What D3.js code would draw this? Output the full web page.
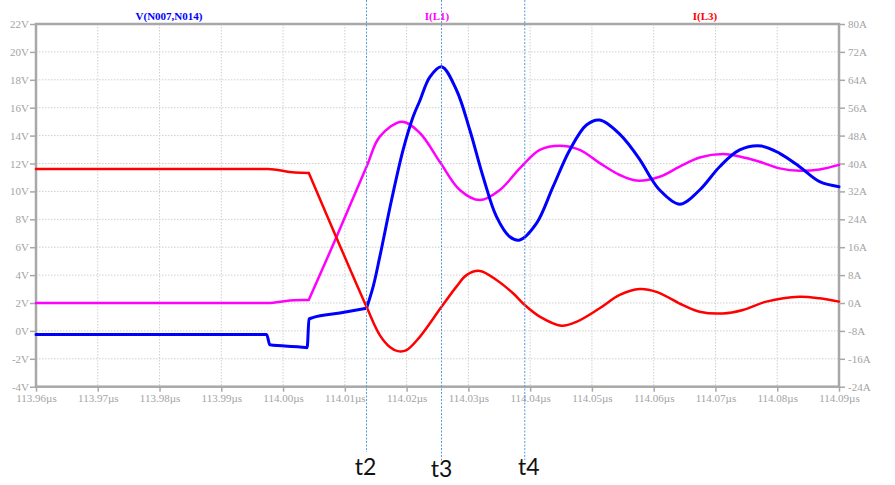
<!DOCTYPE html>
<html>
<head>
<meta charset="utf-8">
<script src="https://cdn.jsdelivr.net/npm/d3@7"></script>
<style>
  html, body { margin: 0; padding: 0; background: #fff; }
  svg { display: block; }
</style>
</head>
<body>
<svg id="chart" width="895" height="485"></svg>
<script>
// ---------------- DATA ----------------
const xTickValues = [113.96,113.97,113.98,113.99,114.00,114.01,114.02,114.03,114.04,114.05,114.06,114.07,114.08,114.09];
const xTickLabels = ["113.96µs","113.97µs","113.98µs","113.99µs","114.00µs","114.01µs","114.02µs","114.03µs","114.04µs","114.05µs","114.06µs","114.07µs","114.08µs","114.09µs"];
const leftTickValues = [22,20,18,16,14,12,10,8,6,4,2,0,-2,-4];
const leftTickLabels = ["22V","20V","18V","16V","14V","12V","10V","8V","6V","4V","2V","0V","-2V","-4V"];
const rightTickValues = [80,72,64,56,48,40,32,24,16,8,0,-8,-16,-24];
const rightTickLabels = ["80A","72A","64A","56A","48A","40A","32A","24A","16A","8A","0A","-8A","-16A","-24A"];

const seriesNames = ["V(N007,N014)","I(L1)","I(L3)"];

// V(N007,N014) in volts (left axis)
const vTime = [113.96,113.99733,113.99786,114.00272,114.0039,114.0042,114.0048,114.00919,114.01351,114.01458,114.01566,114.01756,114.01943,114.02105,114.02214,114.02375,114.02565,114.02807,114.03023,114.03238,114.03455,114.0367,114.03832,114.04102,114.04371,114.04641,114.04911,114.05126,114.0545,114.05773,114.05935,114.06097,114.06421,114.06744,114.07068,114.07392,114.07743,114.08039,114.08362,114.08686,114.09];
const vValues = [-0.25,-0.25,-1.0,-1.15,-1.2,0.85,0.95,1.28,1.62,3.17,5.32,9.38,12.97,15.35,16.5,18.2,18.94,17.27,14.40,11.05,8.19,6.75,6.52,7.71,10.34,12.97,14.76,15.12,14.11,12.3,11.1,10.1,9.08,10.10,11.77,12.97,13.25,12.73,11.77,10.70,10.34];

// I(L1) in amps (right axis)
const iL1Time = [113.96,113.99754,114.0011,114.00417,114.00866,114.01351,114.01566,114.01927,114.02214,114.02537,114.02861,114.03184,114.03508,114.03832,114.04155,114.04479,114.04803,114.05126,114.0545,114.0572,114.06097,114.06421,114.06744,114.0712,114.07392,114.07715,114.08039,114.08362,114.08686,114.09];
const iL1Values = [0,0,0.7,0.9,19.0,39.1,47.7,52.0,48.75,40.5,32.4,29.5,32.4,38.6,43.9,45.1,43.9,40.1,36.7,35.1,36.2,39.1,41.7,42.7,42.0,40.5,38.6,37.9,38.3,39.6];

// I(L3) in amps (right axis)
const iL3Time = [113.96,113.99754,114.00191,114.00417,114.01351,114.01566,114.01728,114.01858,114.01998,114.02214,114.02565,114.02807,114.02969,114.03184,114.03455,114.03723,114.03913,114.04155,114.04506,114.04749,114.05126,114.0545,114.05773,114.06044,114.06474,114.06744,114.07117,114.07445,114.07824,114.08362,114.08686,114.09];
const iL3Values = [38.4,38.4,37.4,37.3,-1.1,-9.2,-12.6,-13.8,-13.5,-9.7,-1.1,4.7,8.0,9.2,6.6,2.8,-0.6,-3.9,-6.5,-5.4,-1.5,2.3,4.0,3.2,-0.6,-2.5,-3.0,-2.0,0.4,1.8,1.35,0.4];

// cursors
const cursorNames = ["t2","t3","t4"];
const cursorTimes = [114.01351,114.02565,114.03913];

// ---------------- LAYOUT ----------------
const W = 895, H = 485;
const mLeft = 36, mRight = 839, mTop = 24, mBottom = 386.7;
const axisColor = "#a8a8a8";
const textColor = "#a3a3a3";
const svg = d3.select("#chart");
svg.append("rect").attr("width", W).attr("height", H).attr("fill", "#fff");

const x = d3.scaleLinear().domain([113.96, 114.09]).range([mLeft, mRight]);
const yL = d3.scaleLinear().domain([-4, 22]).range([mBottom, mTop]);
const yR = d3.scaleLinear().domain([-24, 80]).range([mBottom, mTop]);

// grid
const grid = svg.append("g");
grid.selectAll("line").data(xTickValues.slice(1, -1)).join("line")
  .attr("x1", d => x(d)).attr("x2", d => x(d)).attr("y1", mTop).attr("y2", mBottom)
  .attr("stroke", "#cfcfcf").attr("stroke-width", 1).attr("stroke-dasharray", "1.5,1.5");
const grid2 = svg.append("g");
grid2.selectAll("line").data(leftTickValues.slice(1, -1)).join("line")
  .attr("x1", mLeft).attr("x2", mRight).attr("y1", d => yL(d)).attr("y2", d => yL(d))
  .attr("stroke", "#cfcfcf").attr("stroke-width", 1).attr("stroke-dasharray", "1.5,1.5");

// axes
const fontSerif = "'Liberation Serif','DejaVu Serif',serif";
function styleAxis(g) {
  g.select(".domain").remove();
  g.selectAll(".tick line").attr("stroke", axisColor).attr("stroke-width", 1.5);
  g.selectAll(".tick text").attr("fill", textColor).attr("font-family", fontSerif).attr("font-size", "11px");
}
const xAxis = d3.axisBottom(x).tickValues(xTickValues).tickSize(5).tickPadding(3)
  .tickFormat((d, i) => xTickLabels[i]);
svg.append("g").attr("transform", `translate(0,${mBottom})`).call(xAxis).call(styleAxis);

const lAxis = d3.axisLeft(yL).tickValues(leftTickValues).tickSize(6).tickPadding(1)
  .tickFormat((d, i) => leftTickLabels[i]);
svg.append("g").attr("transform", `translate(${mLeft},0)`).call(lAxis).call(styleAxis);

const rAxis = d3.axisRight(yR).tickValues(rightTickValues).tickSize(6).tickPadding(3)
  .tickFormat((d, i) => rightTickLabels[i]);
svg.append("g").attr("transform", `translate(${mRight},0)`).call(rAxis).call(styleAxis);

// frame
svg.append("rect").attr("x", mLeft).attr("y", mTop).attr("width", mRight - mLeft).attr("height", mBottom - mTop)
  .attr("fill", "none").attr("stroke", axisColor).attr("stroke-width", 2.5);

// curves: monotone (sharp corners) for the switching part, Catmull-Rom for the ringing part
const lineSharp = d3.line().curve(d3.curveMonotoneX);
const lineSmooth = d3.line().curve(d3.curveCatmullRom.alpha(0.5));
function drawSeries(times, values, yScale, color, width, splitTime) {
  const pts = times.map((t, i) => [x(t), yScale(values[i])]);
  const k = times.indexOf(splitTime);
  const d = lineSharp(pts.slice(0, k + 1)) + lineSmooth(pts.slice(k));
  svg.append("path").attr("d", d).attr("fill", "none")
    .attr("stroke", color).attr("stroke-width", width)
    .attr("stroke-linejoin", "round").attr("stroke-linecap", "round");
}
drawSeries(iL1Time, iL1Values, yR, "#ff00ff", 2.5, 114.00417);
drawSeries(vTime, vValues, yL, "#0000ff", 3, 114.01351);
drawSeries(iL3Time, iL3Values, yR, "#ff0000", 2.5, 114.00417);

// cursor lines
const cursorEnds = [452, 462, 460];
svg.append("g").selectAll("line").data(cursorTimes).join("line")
  .attr("x1", d => x(d)).attr("x2", d => x(d)).attr("y1", 0).attr("y2", (d, i) => cursorEnds[i])
  .attr("stroke", "#5b9bd5").attr("stroke-width", 1).attr("stroke-dasharray", "2,1.5");

// cursor labels
const labelDx = [-1, 0, 4];
const labelY = [475, 477, 475];
svg.append("g").selectAll("text").data(cursorNames).join("text")
  .attr("x", (d, i) => x(cursorTimes[i]) + labelDx[i]).attr("y", (d, i) => labelY[i])
  .attr("text-anchor", "middle").attr("font-family", "Lato, 'Open Sans', sans-serif")
  .attr("font-size", "23px").attr("fill", "#111").text(d => d);

// legend titles
const titleX = [169, 437, 705];
const titleColor = ["#0000ff", "#ff00ff", "#ff0000"];
svg.append("g").selectAll("text").data(seriesNames).join("text")
  .attr("x", (d, i) => titleX[i]).attr("y", 20)
  .attr("text-anchor", "middle").attr("font-family", fontSerif).attr("font-weight", "bold")
  .attr("font-size", "11px").attr("fill", (d, i) => titleColor[i]).text(d => d);
</script>
</body>
</html>
